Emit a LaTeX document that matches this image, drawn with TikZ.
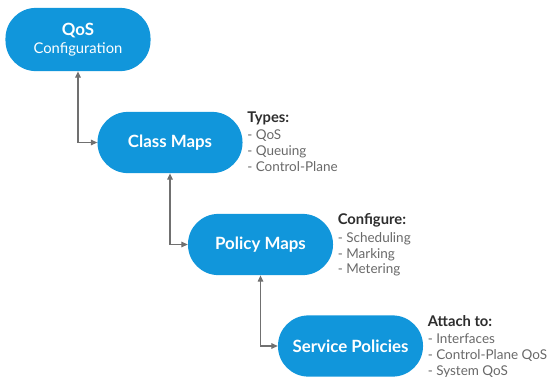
\documentclass[tikz,border=0pt]{standalone}
\usepackage{fontspec}
\setmainfont{Lato}
\usetikzlibrary{arrows.meta, positioning}
\definecolor{qosBlue}{RGB}{17,150,219}
\definecolor{qosGrey}{RGB}{112,112,112}
\definecolor{qosInk}{RGB}{45,45,45}
\definecolor{qosNote}{RGB}{105,105,105}

\begin{document}
\begin{tikzpicture}[x=0.025cm, y=-0.025cm,
      stage/.style={rounded corners=0.76cm, fill=qosBlue, text=white, align=center, minimum width=3.625cm, minimum height=1.53cm, font=\fontsize{12}{14}\selectfont\bfseries},
      note/.style={anchor=north west, align=left, inner sep=0pt, xshift=3pt, text=qosNote, font=\fontsize{9.6}{11.3}\selectfont},
      link/.style={draw=qosGrey, line width=0.8pt, {Triangle[length=4.5pt,width=4pt]}-{Triangle[length=4.5pt,width=4pt]}}
    ]
    \useasboundingbox (0,0) rectangle (551,376);

    % the four stages
    \node[stage, minimum height=1.58cm] (cfg) at (78,39.5) {QoS\\[-1pt]{\fontsize{10.5}{12}\selectfont\mdseries Configuration}};
    \node[stage] (cls) at (170,142.5) {Class Maps};
    \node[stage] (pol) at (260.5,244.5) {Policy Maps};
    \node[stage] (svc) at (350.5,346) {Service Policies};

    % side notes
    \node[note] (clsnote) at (cls.north east) {{\color{qosInk}\fontsize{10.5}{12}\selectfont\bfseries Types:}\\[1pt]- QoS\\- Queuing\\- Control-Plane};
    \node[note] (polnote) at (pol.north east) {{\color{qosInk}\fontsize{10.5}{12}\selectfont\bfseries Configure:}\\[1pt]- Scheduling\\- Marking\\- Metering};
    \node[note] (svcnote) at (svc.north east) {{\color{qosInk}\fontsize{10.5}{12}\selectfont\bfseries Attach to:}\\[1pt]- Interfaces\\- Control-Plane QoS\\- System QoS};

    % links
    \draw[link] (cfg.south) |- (cls.west);
    \draw[link] (cls.south) |- (pol.west);
    \draw[link] (pol.south) |- (svc.west);
  \end{tikzpicture}
\end{document}
